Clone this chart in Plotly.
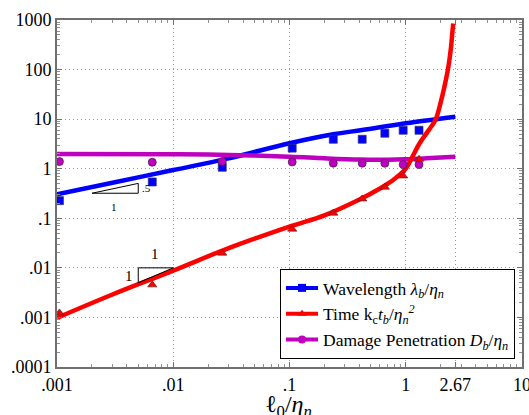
import math
import plotly.graph_objects as go

# ---- data ----
pt_x = [0.00105, 0.0066, 0.0264, 0.1055, 0.238, 0.422, 0.661, 0.95, 1.3]
wave_pts = [0.227, 0.54, 1.07, 2.6, 3.93, 3.93, 5.2, 5.97, 5.97]
time_pts = [0.00123, 0.00454, 0.0198, 0.0604, 0.127, 0.246, 0.424, 0.716, 1.55]
damage_pts = [1.39, 1.35, 1.39, 1.37, 1.29, 1.29, 1.29, 1.21, 1.21]

wave_x = [0.001, 0.003, 0.01, 0.03, 0.1, 0.238, 0.422, 1.0, 2.67]
wave_y = [0.306, 0.52, 0.94, 1.62, 3.27, 4.96, 6.03, 8.26, 11.2]

damage_x = [0.001, 0.01, 0.03, 0.1, 0.2, 0.4, 0.7, 1.0, 1.5, 2.67]
damage_y = [1.97, 1.95, 1.9, 1.75, 1.62, 1.53, 1.52, 1.55, 1.62, 1.75]

time_x = [0.001, 0.003, 0.01, 0.03, 0.1, 0.2, 0.4, 0.6, 0.8, 1.0, 1.12, 1.32,
          1.56, 1.8, 2.0, 2.15, 2.32, 2.45, 2.51, 2.56]
time_y = [0.00098, 0.0029, 0.0088, 0.025, 0.068, 0.115, 0.24, 0.4, 0.62, 1.0,
          1.6, 3.3, 5.8, 9.6, 22, 45, 110, 280, 520, 850]

x_ticks = [0.001, 0.01, 0.1, 1, 2.67, 10]
x_labels = [".001", ".01", ".1", "1", "2.67", "10"]
y_ticks = [1000, 100, 10, 1, 0.1, 0.01, 0.001, 0.0001]
y_labels = ["1000", "100", "10", "1", ".1", ".01", ".001", ".0001"]

BLUE = "#0000FF"
RED = "#FF0000"
MAG = "#BF00BF"
FONT = "Liberation Serif"

fig = go.Figure()

fig.add_trace(go.Scatter(x=wave_x, y=wave_y, mode="lines", line=dict(color=BLUE, width=4.5),
                         showlegend=False, line_shape="spline"))
fig.add_trace(go.Scatter(x=damage_x, y=damage_y, mode="lines", line=dict(color=MAG, width=4.5),
                         showlegend=False, line_shape="spline"))
fig.add_trace(go.Scatter(x=time_x, y=time_y, mode="lines", line=dict(color=RED, width=4.5),
                         showlegend=False, line_shape="spline"))

fig.add_trace(go.Scatter(x=pt_x, y=wave_pts, mode="markers", showlegend=False,
                         marker=dict(symbol="square", size=8, color=BLUE,
                                     line=dict(color="#333366", width=0.7))))
fig.add_trace(go.Scatter(x=pt_x, y=damage_pts, mode="markers", showlegend=False,
                         marker=dict(symbol="circle", size=8, color=MAG,
                                     line=dict(color="#402040", width=0.7))))
fig.add_trace(go.Scatter(x=pt_x, y=time_pts, mode="markers", showlegend=False,
                         marker=dict(symbol="triangle-up", size=8, color=RED,
                                     line=dict(color="#602020", width=0.7))))

# legend entries
fig.add_trace(go.Scatter(x=[None], y=[None], mode="lines+markers", name="Wavelength <i>λ<sub>b</sub></i>/<i>η<sub>n</sub></i>",
                         line=dict(color=BLUE, width=4), marker=dict(symbol="square", size=8, color=BLUE)))
fig.add_trace(go.Scatter(x=[None], y=[None], mode="lines+markers", name="Time k<sub>c</sub><i>t<sub>b</sub></i>/<i>η<sub>n</sub><sup>2</sup></i>",
                         line=dict(color=RED, width=4), marker=dict(symbol="triangle-up", size=8, color=RED)))
fig.add_trace(go.Scatter(x=[None], y=[None], mode="lines+markers", name="Damage Penetration <i>D<sub>b</sub></i>/<i>η<sub>n</sub></i>",
                         line=dict(color=MAG, width=4), marker=dict(symbol="circle", size=8, color=MAG)))

# slope triangles
tri_line = dict(color="black", width=1)
for (xa, ya, xb, yb) in [(0.002, 0.32, 0.005, 0.32), (0.005, 0.32, 0.005, 0.506), (0.002, 0.32, 0.005, 0.506),
                         (0.005, 0.01, 0.01, 0.01), (0.005, 0.01, 0.005, 0.005), (0.005, 0.005, 0.01, 0.01)]:
    fig.add_shape(type="line", xref="x", yref="y", x0=xa, y0=ya, x1=xb, y1=yb, line=tri_line)

def ann(x, y, t, s):
    fig.add_annotation(x=math.log10(x), y=math.log10(y), text=t, showarrow=False,
                       font=dict(family=FONT, size=s, color="black"))
ann(0.0059, 0.40, ".5", 11)
ann(0.0031, 0.167, "1", 11)
ann(0.0069, 0.019, "1", 15)
ann(0.0042, 0.0069, "1", 15)

# x-axis title
fig.add_annotation(x=0.497, y=-0.112, xref="paper", yref="paper", xanchor="center", yanchor="middle",
                   showarrow=False, text="ℓ<sub>0</sub>/<i>η<sub>n</sub></i>",
                   font=dict(family=FONT, size=24, color="black"))

axis_common = dict(type="log", showline=True, linecolor="#707070", linewidth=2, mirror="allticks",
                   ticks="inside", ticklen=5, tickcolor="#707070", showgrid=True, gridcolor="#999999",
                   griddash="1px,3px", gridwidth=1, zeroline=False, automargin=False,
                   ticklabeloverflow="allow",
                   tickfont=dict(family=FONT, size=18, color="black"),
                   minor=dict(ticks="inside", ticklen=3, tickcolor="#909090", dtick="D1", showgrid=False))

fig.update_xaxes(range=[-3, 1], tickmode="array", tickvals=x_ticks, ticktext=x_labels, **axis_common)
fig.update_yaxes(range=[-4, 3], tickmode="array", tickvals=y_ticks, ticktext=y_labels, **axis_common)

fig.update_layout(
    width=529, height=415,
    margin=dict(l=57, r=7, t=20, b=48, autoexpand=False),
    plot_bgcolor="white", paper_bgcolor="white",
    font=dict(family=FONT, size=18, color="black"),
    legend=dict(x=0.985, y=0.023, xanchor="right", yanchor="bottom", bgcolor="white",
                bordercolor="black", borderwidth=1, font=dict(family=FONT, size=17.5),
                tracegroupgap=0, itemwidth=32),
)

fig.write_html("out.html", config={"displayModeBar": False},
               post_script="document.body.style.margin='0px';")
